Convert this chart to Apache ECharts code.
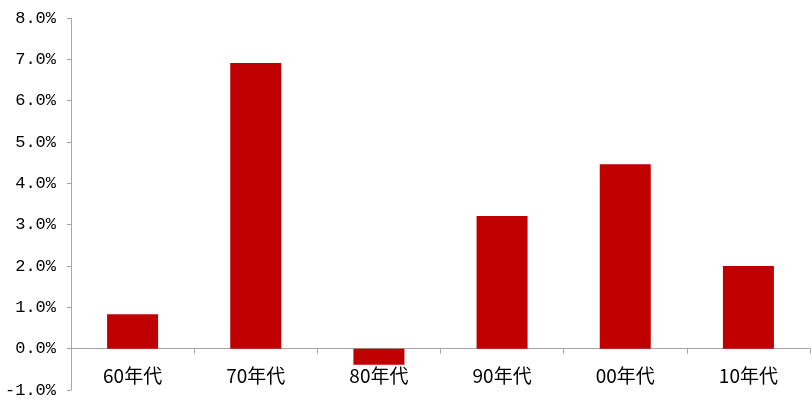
<!DOCTYPE html>
<html>
<head>
<meta charset="utf-8">
<script src="https://cdn.jsdelivr.net/npm/echarts@6/dist/echarts.min.js"></script>
<style>
  html, body { margin: 0; padding: 0; background: #fff; }
  #chart { width: 812px; height: 402px; }
</style>
</head>
<body>
<div id="chart"></div>
<script>
// Average annual growth by decade
const categories = ['60年代', '70年代', '80年代', '90年代', '00年代', '10年代'];
const values = [0.83, 6.91, -0.39, 3.21, 4.46, 2.0];
const yMin = -1, yMax = 8, yStep = 1;

const chart = echarts.init(document.getElementById('chart'));
const axisGray = '#a6a6a6';

chart.setOption({
  animation: false,
  grid: { left: 71, right: 2, top: 18, bottom: 12, containLabel: false, outerBoundsMode: 'none' },
  xAxis: {
    type: 'category',
    data: categories,
    axisLine: { onZero: true, lineStyle: { color: axisGray, width: 1 } },
    axisTick: { show: true, length: 5, lineStyle: { color: axisGray } },
    axisLabel: {
      margin: -24,
      color: '#000',
      fontSize: 19,
      fontFamily: 'Noto Sans CJK SC'
    }
  },
  yAxis: {
    type: 'value',
    min: yMin,
    max: yMax,
    interval: yStep,
    splitLine: { show: false },
    axisLine: { show: true, lineStyle: { color: axisGray, width: 1 } },
    axisTick: { show: true, length: 4, lineStyle: { color: axisGray } },
    axisLabel: {
      margin: 15,
      color: '#000',
      fontSize: 17,
      fontFamily: 'Liberation Mono',
      formatter: v => v.toFixed(1) + '%'
    }
  },
  series: [{
    type: 'bar',
    data: values,
    barWidth: 51,
    itemStyle: { color: '#C00000' }
  }]
});
</script>
</body>
</html>
